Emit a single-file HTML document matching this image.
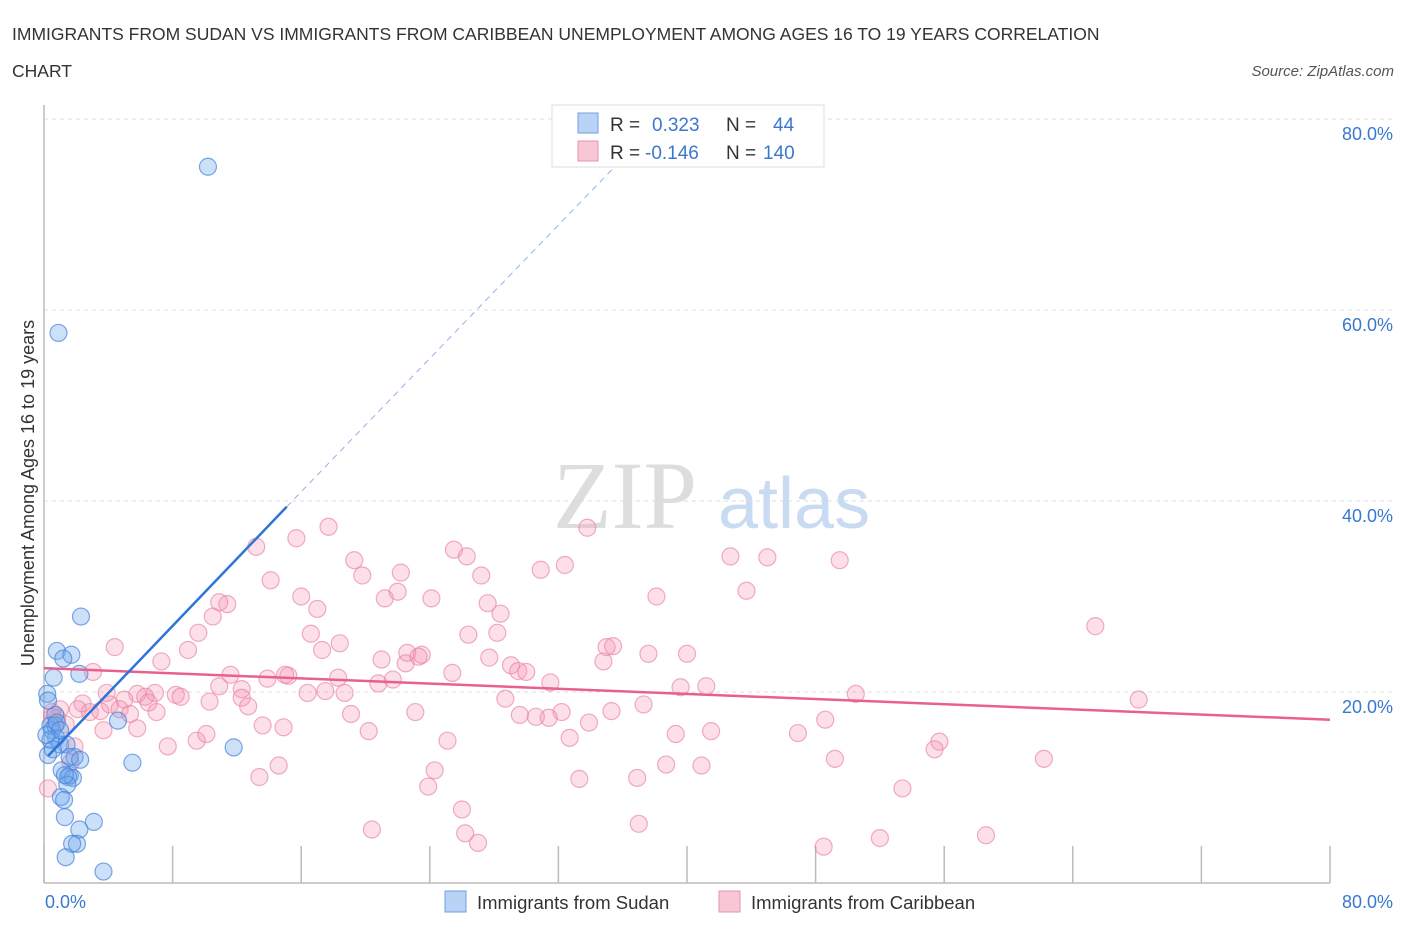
<!DOCTYPE html>
<html><head><meta charset="utf-8"><style>
body{margin:0;background:#fff;font-family:"Liberation Sans",sans-serif;}
svg{display:block}
</style></head><body>
<svg id="chart" width="1406" height="930">
<text x="12" y="40" font-size="17.5" fill="#333">IMMIGRANTS FROM SUDAN VS IMMIGRANTS FROM CARIBBEAN UNEMPLOYMENT AMONG AGES 16 TO 19 YEARS CORRELATION</text>
<text x="12" y="77" font-size="17.5" fill="#333">CHART</text>
<text x="1394" y="76" font-size="15" fill="#555" font-style="italic" text-anchor="end">Source: ZipAtlas.com</text>
<g>
<text x="553" y="528" font-size="96" fill="#ddd" font-family="Liberation Serif,serif">ZIP</text>
<text x="718" y="528" font-size="72" fill="#c8dbf2">atlas</text>
</g>
<g id="grid"></g>
<g id="axes"></g>
<g id="pts"></g>
<g id="lines"></g>
<text transform="translate(34,493) rotate(-90)" font-size="18" fill="#333" text-anchor="middle">Unemployment Among Ages 16 to 19 years</text>
<g>
<rect x="552" y="105" width="272" height="62" fill="#fff" stroke="#ddd"/>
<rect x="578" y="113" width="20" height="20" fill="#b8d3f5" stroke="#6f9fe0"/>
<rect x="578" y="141" width="20" height="20" fill="#f9c6d6" stroke="#e892ab"/>
<text y="131" font-size="19"><tspan x="610" fill="#333">R = </tspan><tspan x="652" fill="#3a78d0">0.323</tspan><tspan x="726" fill="#333">N = </tspan><tspan x="773" fill="#3a78d0">44</tspan></text>
<text y="159" font-size="19"><tspan x="610" fill="#333">R = </tspan><tspan x="645" fill="#3a78d0">-0.146</tspan><tspan x="726" fill="#333">N = </tspan><tspan x="763" fill="#3a78d0">140</tspan></text>
</g>
<g>
<rect x="445" y="891" width="21" height="21" fill="#b8d3f5" stroke="#6f9fe0"/>
<text x="477" y="909" font-size="18.5" fill="#333">Immigrants from Sudan</text>
<rect x="719" y="891" width="21" height="21" fill="#f9c6d6" stroke="#e892ab"/>
<text x="751" y="909" font-size="18.5" fill="#333">Immigrants from Caribbean</text>
</g>
</svg>
<script>
const yTicks=[20,40,60,80];
const yTickLabels=["20.0%","40.0%","60.0%","80.0%"];
const xTickVals=[0,8,16,24,32,40,48,56,64,72,80];
const xEndLabels=["0.0%","80.0%"];
const sudanX=[10.2,0.9,2.3,0.8,1.7,1.2,0.6,2.2,0.2,4.6,5.5,11.8,0.7,0.5,0.75,1.0,1.4,0.25,1.9,1.1,1.6,1.5,1.8,1.45,1.05,1.25,1.3,3.1,2.2,2.05,1.75,1.35,3.7,0.4,0.7,0.4,0.8,0.55,1.3,0.25,1.6,2.25,1.0,0.15];
const sudanY=[75.0,57.6,27.9,24.3,23.9,23.5,21.5,21.9,19.8,17.0,12.6,14.2,17.6,16.0,15.2,14.5,14.5,13.4,13.2,11.8,11.3,11.1,11.0,10.3,9.0,8.7,6.9,6.4,5.6,4.1,4.1,2.7,1.2,16.5,16.5,15.0,16.8,14.0,11.3,19.1,13.2,12.9,16.0,15.5];
const carX=[33.8,17.7,13.2,15.7,19.3,19.8,26.3,25.5,27.2,22.2,24.1,21.2,16.0,14.1,17.0,22.0,30.9,32.4,27.6,28.4,38.1,42.7,45.0,49.5,43.7,65.4,11.4,10.9,10.5,9.6,8.96,7.3,4.4,3.05,5.8,6.9,8.2,8.5,6.3,5.0,3.9,4.1,4.7,2.4,2.1,1.0,0.5,0.8,1.35,2.85,3.5,5.35,6.5,7.0,5.8,3.7,11.6,12.3,10.9,12.3,12.7,13.9,15.2,15.0,16.6,17.3,18.4,16.4,17.5,18.3,18.7,19.1,20.2,21.0,20.8,21.7,22.5,22.6,23.3,23.5,25.4,26.4,28.2,27.7,29.05,29.5,30.0,31.5,32.2,30.6,28.7,29.6,31.4,32.7,33.9,34.8,35.0,35.4,37.6,40.0,41.2,39.6,37.3,35.3,39.3,41.5,40.9,38.7,36.9,33.3,37.0,46.9,48.6,49.2,50.5,55.7,55.4,53.4,48.5,52.0,58.6,62.2,68.1,20.4,23.1,24.3,25.1,26.2,27.0,26.0,23.9,13.4,14.6,14.9,13.6,9.5,10.1,7.7,1.9,1.65,0.25,0.5,10.3];
const carY=[37.2,37.3,35.2,36.1,33.8,32.2,34.2,34.9,32.2,32.5,29.8,29.8,30.0,31.7,28.7,30.5,32.8,33.3,29.3,28.2,30.0,34.2,34.1,33.8,30.6,26.9,29.2,29.4,27.9,26.2,24.4,23.2,24.7,22.1,19.8,19.9,19.7,19.5,19.5,19.2,19.9,18.7,18.2,18.8,18.2,18.2,17.4,17.3,16.6,17.9,18.0,17.7,18.9,17.9,16.2,16.0,21.8,20.3,20.6,19.4,18.5,21.4,21.7,21.8,26.1,24.4,25.1,19.9,20.1,21.5,19.9,17.7,15.9,23.4,20.9,21.3,23.0,24.1,23.7,23.9,22.0,26.0,26.2,23.6,22.8,22.2,22.1,21.0,17.9,17.4,19.3,17.6,17.3,15.2,16.8,23.2,24.7,24.8,24.0,24.0,20.6,20.5,18.7,18.0,15.6,15.9,12.3,12.4,11.0,10.9,6.2,15.7,17.1,13.0,19.8,14.8,14.0,9.9,3.8,4.7,5.0,13.0,19.2,5.6,17.9,11.8,14.9,5.2,4.2,7.7,10.1,11.1,12.3,16.3,16.5,14.9,15.6,14.3,14.3,12.6,9.9,17.9,19.0,17.7,14.4,28.1];
const sudanTrend=[[0.25,13.3],[15.1,39.4]];
const sudanTrendDash=[[15.1,39.4],[35.5,75.0]];
const carTrend=[[0,22.5],[80,17.1]];
const NS="http://www.w3.org/2000/svg";
const X0=44,X1=1330,Y0=883,Y80=119;
function xs(v){return X0+(X1-X0)*v/80;}
function ys(v){return Y0-(Y0-Y80)*v/80;}
function mk(tag,attrs,parent){const e=document.createElementNS(NS,tag);for(const k in attrs)e.setAttribute(k,attrs[k]);parent.appendChild(e);return e;}
const grid=document.getElementById('grid'),axes=document.getElementById('axes'),pts=document.getElementById('pts'),lines=document.getElementById('lines');
yTicks.forEach((t,i)=>{
 const l=mk('line',{x1:X0,x2:1392,y1:ys(t),y2:ys(t),stroke:'#ddd','stroke-dasharray':'4,4'},grid);
 
 
 const tx=mk('text',{x:1393,y:ys(t)+21,'font-size':18,fill:'#3a78d0','text-anchor':'end'},axes);
 tx.textContent=yTickLabels[i];
 
 
});
const ax=mk('line',{x1:X0,x2:X1,y1:Y0,y2:Y0,stroke:'#bbb','stroke-width':1.5},axes);


const ay=mk('line',{x1:X0,x2:X0,y1:105,y2:Y0,stroke:'#bbb','stroke-width':1.5},axes);


xTickVals.forEach(v=>{
 const t=mk('line',{x1:xs(v),x2:xs(v),y1:846,y2:Y0,stroke:'#bbb','stroke-width':1.5},axes);
 
 
});
const xl0=mk('text',{x:45,y:908,'font-size':18,fill:'#3a78d0'},axes);
xl0.textContent=xEndLabels[0];


const xl1=mk('text',{x:1393,y:908,'font-size':18,fill:'#3a78d0','text-anchor':'end'},axes);
xl1.textContent=xEndLabels[1];


carX.forEach((v,i)=>{
 const c=mk('circle',{cx:xs(v),cy:ys(carY[i]),r:8.5,fill:'rgba(244,150,180,0.3)',stroke:'rgba(232,130,160,0.65)','stroke-width':1.2},pts);
 
 
});
sudanX.forEach((v,i)=>{
 const c=mk('circle',{cx:xs(v),cy:ys(sudanY[i]),r:8.5,fill:'rgba(110,165,235,0.35)',stroke:'rgba(70,130,220,0.7)','stroke-width':1.2},pts);
 
 
});
const l1=mk('line',{x1:xs(carTrend[0][0]),y1:ys(carTrend[0][1]),x2:xs(carTrend[1][0]),y2:ys(carTrend[1][1]),stroke:'#e8608f','stroke-width':2.5},lines);


const l2=mk('line',{x1:xs(sudanTrend[0][0]),y1:ys(sudanTrend[0][1]),x2:xs(sudanTrend[1][0]),y2:ys(sudanTrend[1][1]),stroke:'#2f74d8','stroke-width':2.5},lines);


const l3=mk('line',{x1:xs(sudanTrendDash[0][0]),y1:ys(sudanTrendDash[0][1]),x2:xs(sudanTrendDash[1][0]),y2:ys(sudanTrendDash[1][1]),stroke:'#8fb3e8','stroke-width':1,'stroke-dasharray':'6,5'},lines);


</script>
</body></html>
